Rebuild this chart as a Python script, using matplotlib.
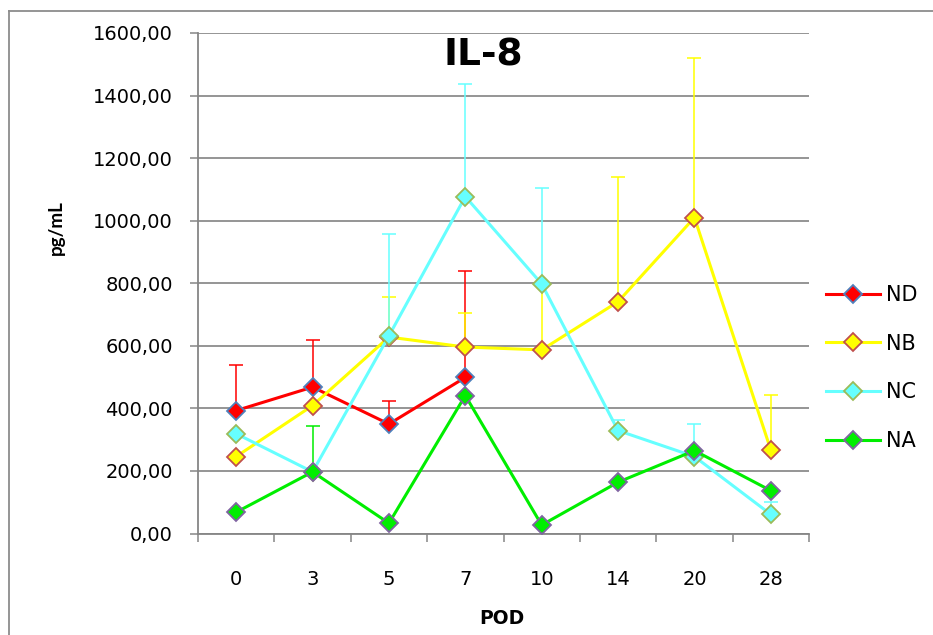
import numpy as np
from matplotlib import pyplot as plt
from matplotlib.lines import Line2D

# days post operation (categories)
pod = ["0", "3", "5", "7", "10", "14", "20", "28"]

# IL-8 means (pg/mL)
nd_mean = [393, 468, 350, 499, np.nan, np.nan, np.nan, np.nan]
nb_mean = [246, 409, 628, 596, 587, 741, 1010, 267]
nc_mean = [319, 197, 632, 1077, 798, 329, 246, 61]
na_mean = [68, 197, 33, 441, 27, 164, 265, 137]

# upper error bars (SD), 0 = not shown
nd_sd = [146, 151, 73, 339, 0, 0, 0, 0]
nb_sd = [0, 0, 129, 108, 213, 398, 509, 176]
nc_sd = [0, 0, 325, 360, 306, 34, 104, 41]
na_sd = [0, 147, 0, 0, 0, 0, 0, 0]

series = [
    ("ND", nd_mean, nd_sd, "#ff0000", "#4f81bd"),
    ("NB", nb_mean, nb_sd, "#ffff00", "#c0504d"),
    ("NC", nc_mean, nc_sd, "#66ffff", "#9bbb59"),
    ("NA", na_mean, na_sd, "#00ee00", "#8064a2"),
]

plt.rcParams['font.family'] = ['DejaVu Sans']

W, H = 933, 635
fig = plt.figure(figsize=(W / 100, H / 100), dpi=100)
ax = fig.add_axes([198 / W, 1 - 533.5 / H, (809 - 198) / W, (533.5 - 33) / H])

x = np.arange(len(pod))
for name, mean, sd, col, edge in series:
    mean = np.array(mean, dtype=float)
    sd = np.array(sd, dtype=float)
    m = sd > 0
    ax.errorbar(x[m], mean[m], yerr=[np.zeros(m.sum()), sd[m]], fmt="none",
                ecolor=col, elinewidth=1.1, capsize=4.7, capthick=1.1, zorder=3)
    ax.plot(x, mean, color=col, lw=2.2, marker="D", ms=9.5,
            mfc=col, mec=edge, mew=1.3, label=name, zorder=4)

ax.set_xlim(-0.5, len(pod) - 0.5)
ax.set_ylim(0, 1600)
ax.set_yticks(np.arange(0, 1601, 200))
ax.set_yticklabels([f"{v:.2f}".replace(".", ",") for v in np.arange(0, 1601, 200)])
ax.set_xticks(x)
ax.set_xticklabels(pod)
ax.set_xticks(np.arange(-0.5, len(pod)), minor=True)

ax.grid(axis="y", color="#8c8c8c", lw=1.3, zorder=0)
ax.set_axisbelow(True)
for s in ["top", "right"]:
    ax.spines[s].set_visible(False)
for s in ["left", "bottom"]:
    ax.spines[s].set_color("#868686")
    ax.spines[s].set_linewidth(1.3)

ax.tick_params(axis="y", direction="out", length=6, width=1.1, color="#868686",
               labelsize=14, pad=12)
ax.tick_params(axis="x", which="major", length=0, labelsize=14, pad=26)
ax.tick_params(axis="x", which="minor", direction="out", length=6, width=1.1,
               color="#868686")

fig.text(483 / W, 1 - 55 / H, "IL-8", fontsize=27, fontweight="bold",
         ha="center", va="center")
fig.text(56 / W, 1 - 228 / H, "pg/mL", fontsize=13.5, fontweight="bold",
         family=["Lato", "DejaVu Sans"], rotation=90, ha="center", va="center")
fig.text(502 / W, 1 - 618 / H, "POD", fontsize=13.5, fontweight="bold",
         ha="center", va="center")

ax.legend(loc="center left", bbox_to_anchor=(826 / W, 1 - 368 / H),
          bbox_transform=fig.transFigure, frameon=False, fontsize=15,
          handlelength=2.6, handletextpad=0.3, labelspacing=1.38, borderpad=0,
          borderaxespad=0)

# chart area border (only left and top are inside the picture)
fig.add_artist(Line2D([9 / W, 9 / W], [0, 1 - 11 / H], color="#8c8c8c", lw=1.3))
fig.add_artist(Line2D([9 / W, 1], [1 - 11 / H, 1 - 11 / H], color="#8c8c8c", lw=1.3))

fig.savefig("out.png", dpi=100)
